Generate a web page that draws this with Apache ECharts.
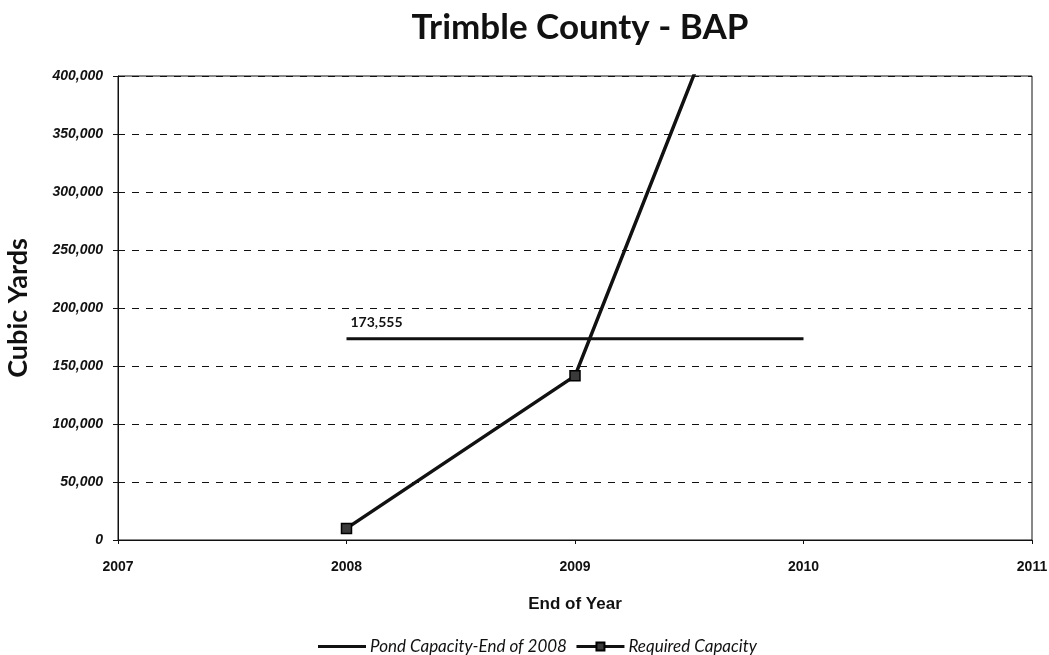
<!DOCTYPE html>
<html>
<head>
<meta charset="utf-8">
<title>Trimble County - BAP</title>
<script src="https://cdn.jsdelivr.net/npm/echarts@6/dist/echarts.min.js"></script>
<style>
  html, body { margin: 0; padding: 0; background: #ffffff; }
  #chart { width: 1049px; height: 655px; }
</style>
</head>
<body>
<div id="chart"></div>
<script>
// Year positions on the horizontal axis (end of year)
const years = [2008, 2009, 2010];
// Pond capacity available at the end of 2008 (cubic yards), held flat
const pondCapacity = [173555, 173555, 173555];
// Required capacity by end of year (cubic yards)
const requiredCapacity = [10000, 141500, 640000];
// Axis ranges and tick labels
const xTicks = [2007, 2008, 2009, 2010, 2011];
const yTicks = [0, 50000, 100000, 150000, 200000, 250000, 300000, 350000, 400000];

const pondLabel = '173,555';

const chart = echarts.init(document.getElementById('chart'), null, { renderer: 'canvas' });

const fmt = v => v === 0 ? '0' : v.toLocaleString('en-US');

chart.setOption({
  animation: false,
  backgroundColor: '#ffffff',
  title: {
    text: 'Trimble County - BAP',
    left: 575,
    textAlign: 'center',
    top: 5,
    textStyle: { fontFamily: 'Lato', fontWeight: 'bold', fontSize: 35, color: '#111' }
  },
  grid: {
    left: 118, right: 17, top: 76, bottom: 115,
    outerBoundsMode: 'none',
    containLabel: false,
    show: true, borderColor: '#111', borderWidth: 1
  },
  legend: {
    top: 633,
    left: 313,
    itemWidth: 48,
    itemHeight: 10,
    itemGap: 8,
    lineStyle: { width: 3 },
    textStyle: { fontFamily: 'Lato', fontStyle: 'italic', fontSize: 17, color: '#111', padding: [0, 0, 0, -1] },
    data: [
      { name: 'Pond Capacity-End of 2008', icon: 'path://M0,0 L48,0 L48,3 L0,3 Z' },
      { name: 'Required Capacity' }
    ]
  },
  xAxis: {
    type: 'value',
    min: xTicks[0],
    max: xTicks[xTicks.length - 1],
    interval: 1,
    name: 'End of Year',
    nameLocation: 'middle',
    nameGap: 56,
    nameTextStyle: { fontFamily: 'Liberation Sans', fontWeight: 'bold', fontSize: 17, color: '#111' },
    axisLine: { lineStyle: { color: '#111', width: 1 } },
    axisTick: { show: true, length: 4, lineStyle: { color: '#111' } },
    axisLabel: {
      margin: 20,
      formatter: v => String(v),
      fontFamily: 'Liberation Sans', fontWeight: 'bold', fontSize: 14, color: '#111'
    },
    splitLine: { show: false }
  },
  yAxis: {
    type: 'value',
    min: yTicks[0],
    max: yTicks[yTicks.length - 1],
    interval: 50000,
    name: 'Cubic Yards',
    nameLocation: 'middle',
    nameGap: 86,
    nameTextStyle: { fontFamily: 'Lato', fontWeight: 'bold', fontSize: 27, color: '#111' },
    axisLine: { show: true, lineStyle: { color: '#111', width: 1 } },
    axisTick: { show: true, length: 5, lineStyle: { color: '#111' } },
    axisLabel: {
      margin: 15,
      formatter: fmt,
      fontFamily: 'Liberation Sans', fontStyle: 'italic', fontWeight: 'bold', fontSize: 14, color: '#111'
    },
    splitLine: { show: true, lineStyle: { color: '#111', width: 1, type: [7, 7] } }
  },
  series: [
    {
      name: 'Pond Capacity-End of 2008',
      type: 'line',
      symbol: 'none',
      color: '#111',
      lineStyle: { color: '#111', width: 3 },
      data: years.map((y, i) => [y, pondCapacity[i]]),
      markPoint: {
        symbol: 'circle', symbolSize: 0,
        label: {
          show: true, formatter: pondLabel, offset: [30, -16],
          fontFamily: 'Lato', fontWeight: 'bold', fontSize: 14, color: '#111'
        },
        data: [{ coord: [years[0], pondCapacity[0]] }]
      },
      z: 3
    },
    {
      name: 'Required Capacity',
      type: 'line',
      symbol: 'rect',
      symbolSize: 10,
      showAllSymbol: true,
      color: '#333',
      itemStyle: { color: '#3a3a3a', borderColor: '#000', borderWidth: 1.5 },
      lineStyle: { color: '#111', width: 3.5 },
      data: years.map((y, i) => [y, requiredCapacity[i]]),
      clip: true,
      z: 4
    }
  ]
});
</script>
</body>
</html>
